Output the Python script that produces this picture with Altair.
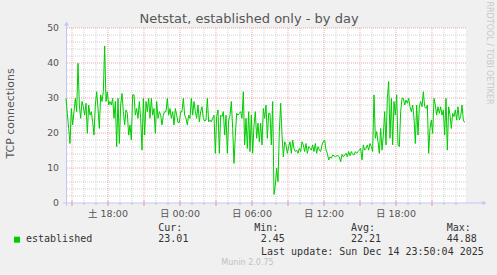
import altair as alt
import pandas as pd

# ---- series values (one sample per 400 s, from Sat 14:30) ----
seg1 = [29.9, 25.6, 21.3, 17.0, 27.0, 22.3, 26.1, 29.9, 26.1, 39.9,
        28.0, 24.2, 29.0, 27.5, 25.1, 28.5, 19.9, 28.0, 25.1, 26.1,
        23.2, 19.4, 28.0, 31.8, 27.0, 21.3, 30.9, 29.0, 31.8, 44.88,
        29.0, 31.8, 28.0, 29.0, 28.0, 29.9, 24.2, 29.0, 16.1, 29.9,
        17.0, 28.0, 31.3, 26.1, 22.3, 26.6, 25.6, 19.4, 22.3, 18.0, 30.9]
seg2 = [30.9, 25.1, 27.0, 24.2, 29.0, 24.2, 15.1, 29.9, 19.4, 29.0,
        26.1, 29.9, 24.2, 29.9, 25.1, 27.0, 19.9, 29.0, 24.2, 26.1,
        25.1, 22.3, 25.1, 26.1, 26.1, 29.9, 25.1, 27.0, 24.2, 26.1,
        22.3, 27.0, 25.1, 23.0, 23.0, 26.1, 26.1, 29.9, 25.1, 24.2,
        22.3, 25.1, 24.2, 29.9, 25.1, 29.0, 26.1, 24.2, 28.0, 23.2, 26.1]
seg3 = [27.5, 24.2, 23.4, 23.7, 29.9, 23.2, 23.7, 23.2, 24.2, 25.1,
        14.2, 24.7, 26.6, 14.2, 25.1, 24.7, 26.1, 19.4, 25.1, 14.2,
        23.7, 25.1, 29.0, 21.3, 11.3, 19.4, 25.6, 25.1, 25.6, 26.1,
        24.2, 31.8, 16.6, 24.2, 15.6, 26.1, 14.7, 25.1, 14.2, 22.3,
        26.1, 18.5, 22.8, 17.5, 22.8, 16.6, 27.0, 24.2, 28.0, 18.5, 25.6]
seg4 = [25.6, 16.6, 29.0, 2.45, 5.1, 9.9, 6.1, 20.4, 28.5, 19.4,
        13.2, 17.5, 16.6, 14.2, 16.1, 17.5, 14.2, 18.0, 15.6, 14.7,
        15.1, 14.2, 15.6, 14.7, 17.5, 16.6, 14.7, 17.0, 14.2, 16.1,
        15.6, 15.1, 16.6, 14.7, 17.0, 14.2, 16.1, 15.1, 14.7, 16.6,
        17.5, 18.0, 15.1, 14.2, 12.3, 13.2, 12.8, 13.7, 13.5, 13.2, 13.5]
seg5 = [13.5, 13.2, 11.8, 13.9, 13.2, 13.7, 14.2, 13.2, 14.7, 13.5,
        14.7, 13.9, 13.7, 14.7, 14.2, 14.7, 15.1, 15.6, 12.3, 16.6,
        15.1, 15.6, 16.6, 15.1, 17.0, 16.1, 14.7, 30.9, 18.5, 20.4,
        17.5, 14.2, 21.3, 15.1, 19.4, 26.1, 16.6, 29.9, 34.7, 18.5,
        29.9, 16.6, 29.0, 25.1, 30.9, 16.6, 16.1, 26.1, 29.9, 29.9, 28.0]
seg6 = [29.4, 28.5, 29.9, 27.5, 26.1, 28.0, 24.2, 17.0, 28.0, 19.4,
        27.5, 29.0, 27.5, 31.8, 27.5, 27.0, 28.0, 14.2, 21.3, 23.7,
        19.9, 29.9, 28.0, 25.1, 27.5, 25.6, 27.5, 25.1, 26.6, 19.4,
        29.9, 15.1, 27.5, 25.1, 21.3, 25.6, 24.7, 26.6, 23.7, 27.5,
        23.7, 24.7, 28.0, 23.7, 23.01]
established = seg1 + seg2 + seg3 + seg4 + seg5 + seg6

x_tick_minutes = [210, 570, 930, 1290, 1650]          # minutes after Sat 14:30
x_tick_labels = ["土 18:00", "日 00:00", "日 06:00", "日 12:00", "日 18:00"]
y_ticks = [0, 10, 20, 30, 40, 50]

stat_names = ["Cur:", "Min:", "Avg:", "Max:"]
stat_values = ["23.01", "2.45", "22.21", "44.88"]
title_text = "Netstat, established only - by day"
y_title = "TCP connections"
series_name = "established"
last_update = "Last update: Sun Dec 14 23:50:04 2025"
footer = "Munin 2.0.75"
side_text = "RRDTOOL / TOBI OETIKER"

# ---- build tables ----
step_min = 400 / 60
df = pd.DataFrame({"t": [i * step_min for i in range(len(established))],
                   "v": established})

XS = alt.Scale(domain=[0, 2000], nice=False, zero=False)
YS = alt.Scale(domain=[0, 50], nice=False, zero=False)
X = lambda f: alt.X(f, scale=XS, axis=None)
Y = lambda f: alt.Y(f, scale=YS, axis=None)

major_t = list(range(30, 2001, 180))
minor_t = [m for m in range(30, 2001, 60) if m not in major_t]
major_v = [10, 20, 30, 40, 50]
minor_v = [m for m in range(2, 50, 2) if m % 10]

GRID_MINOR = "#d2d2d2"
GRID_MAJOR = "#eaa8a8"
AXIS = "#c2c6f4"
GREEN = "#00cc00"
SANS = "DejaVu Sans, Noto Sans CJK JP, sans-serif"
MONO = "DejaVu Sans Mono, monospace"

layers = []
layers.append(alt.Chart(pd.DataFrame({"t": minor_t})).mark_rule(
    color=GRID_MINOR, strokeDash=[1, 1], strokeWidth=1).encode(x=X("t:Q")))
layers.append(alt.Chart(pd.DataFrame({"v": minor_v})).mark_rule(
    color=GRID_MINOR, strokeDash=[1, 1], strokeWidth=1).encode(y=Y("v:Q")))
layers.append(alt.Chart(pd.DataFrame({"t": major_t})).mark_rule(
    color=GRID_MAJOR, strokeDash=[1, 1], strokeWidth=1).encode(x=X("t:Q")))
layers.append(alt.Chart(pd.DataFrame({"v": major_v})).mark_rule(
    color=GRID_MAJOR, strokeDash=[1, 1], strokeWidth=1).encode(y=Y("v:Q")))

# axis ticks
layers.append(alt.Chart(pd.DataFrame({"t": minor_t})).mark_rule(
    color="#c0c0c0", strokeWidth=1).encode(x=X("t:Q"), y=alt.value(174), y2=alt.value(177)))
layers.append(alt.Chart(pd.DataFrame({"t": major_t})).mark_rule(
    color="#e49090", strokeWidth=1).encode(x=X("t:Q"), y=alt.value(173), y2=alt.value(178)))

anchor = pd.DataFrame({"k": [0]})
# axis lines and arrows
layers.append(alt.Chart(anchor).mark_rule(color=AXIS, strokeWidth=1).encode(
    x=alt.value(-3), x2=alt.value(417), y=alt.value(175)))
layers.append(alt.Chart(anchor).mark_rule(color=AXIS, strokeWidth=1).encode(
    x=alt.value(0.5), y=alt.value(178), y2=alt.value(-3)))
layers.append(alt.Chart(anchor).mark_point(shape="triangle-right", filled=True, size=22,
                                           color=AXIS, opacity=1).encode(
    x=alt.value(418.5), y=alt.value(175)))
layers.append(alt.Chart(anchor).mark_point(shape="triangle-up", filled=True, size=22,
                                           color=AXIS, opacity=1).encode(
    x=alt.value(0.5), y=alt.value(-4.5)))

# data line
layers.append(alt.Chart(df).mark_line(color=GREEN, strokeWidth=1).encode(
    x=X("t:Q"), y=Y("v:Q")))

# tick labels
layers.append(alt.Chart(pd.DataFrame({"t": x_tick_minutes, "lab": x_tick_labels})).mark_text(
    font=SANS, fontSize=9.5, color="#555555", align="center", baseline="middle").encode(
    x=X("t:Q"), y=alt.value(186), text="lab:N"))
layers.append(alt.Chart(pd.DataFrame({"v": y_ticks})).mark_text(
    font=SANS, fontSize=9.3, color="#555555", align="right", baseline="middle").encode(
    x=alt.value(-7), y=Y("v:Q"), text="v:N"))


def note(text, x, y, size, color, font=SANS, align="left", angle=0, baseline="middle"):
    return alt.Chart(anchor).mark_text(text=text, font=font, fontSize=size, color=color,
                                       align=align, baseline=baseline, angle=angle).encode(
        x=alt.value(x), y=alt.value(y))


layers.append(note(title_text, 183, -9, 13, "#555555", align="center"))
layers.append(note(y_title, -55, 85.5, 11, "#555555", align="center", angle=270))
layers.append(note(side_text, 422.5, 25, 8, "#c8c8c8", align="center", angle=90))

layers.append(alt.Chart(anchor).mark_square(size=36, color=GREEN, filled=True, opacity=1).encode(
    x=alt.value(-49), y=alt.value(211.7)))
layers.append(note(series_name, -40, 211.3, 10, "#333333", font=MONO))
name_x = [92.3, 188.3, 285, 380.7]
val_x = [92.3, 194.7, 285, 380.7]
for nm, vl, nx, vx in zip(stat_names, stat_values, name_x, val_x):
    layers.append(note(nm, nx, 199.7, 10, "#333333", font=MONO))
    layers.append(note(vl, vx, 211.3, 10, "#333333", font=MONO))
layers.append(note(last_update, 195, 223.7, 10, "#333333", font=MONO))
layers.append(note(footer, 181.5, 235.3, 8, "#c0c0c0", align="center"))

chart = alt.layer(*layers).properties(
    width=400, height=175,
    padding={"left": 66, "top": 28, "right": 31, "bottom": 72},
    autosize=alt.AutoSizeParams(type="none"),
    background="#f0f0f0",
).configure_view(fill="white", stroke=None)

chart.save("out.html", embed_options={"renderer": "svg", "actions": False})
